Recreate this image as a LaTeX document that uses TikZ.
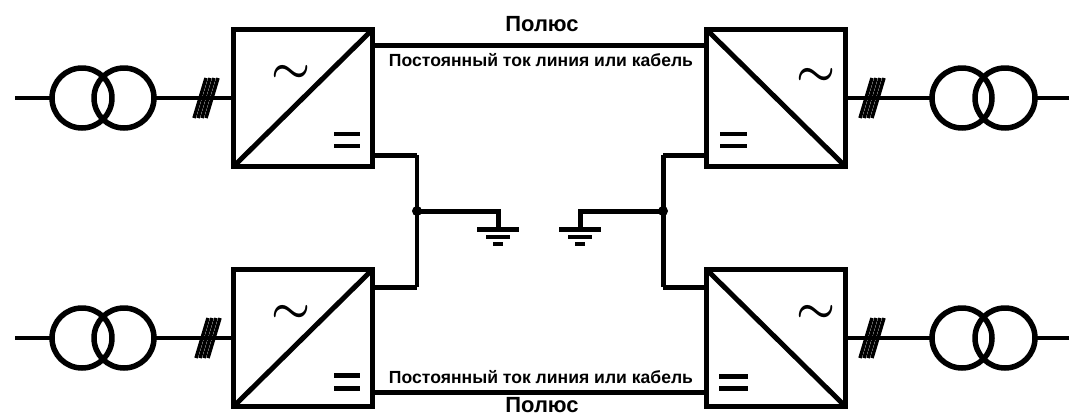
\documentclass[tikz,border=0pt]{standalone}
\usepackage{fontspec}
\setmainfont{Liberation Sans}
\usetikzlibrary{calc}

\tikzset{
	conv/.style={draw, line width=0.1cm, minimum width=2.8cm, minimum height=2.76cm, outer sep=0pt, inner sep=0pt},
	coil/.style={draw, circle, line width=0.11cm, minimum size=1.2cm, outer sep=0pt, inner sep=0pt},
	wire/.style={line width=0.08cm},
	pole/.style={line width=0.1cm},
	thinbus/.style={line width=0.07cm},
	hatch/.style={line width=0.07cm},
	polelabel/.style={inner sep=0pt, font=\bfseries\fontsize{12.5}{14}\selectfont},
	linelabel/.style={inner sep=0pt, font=\bfseries\fontsize{10}{12}\selectfont},
	acsign/.style={inner sep=0pt, font=\fontsize{24}{24}\selectfont\boldmath},
}

\begin{document}
\begin{tikzpicture}[x=0.02cm, y=-0.02cm]
	\useasboundingbox (0,0) rectangle (1071,416);

	% converters
	\node[conv] (convTL) at (303,98) {};
	\node[conv] (convTR) at (776,98) {};
	\node[conv] (convBL) at (303,338) {};
	\node[conv] (convBR) at (776,338) {};
	\draw[pole] (convTL.south west)--(convTL.north east);
	\draw[pole] (convBL.south west)--(convBL.north east);
	\draw[pole] (convTR.north west)--(convTR.south east);
	\draw[pole] (convBR.north west)--(convBR.south east);

	% ac and dc signs
	\node[acsign] (acTL) at (291,74) {$\sim$};
	\node[acsign] (acTR) at (816,77) {$\sim$};
	\node[acsign] (acBL) at (291,314) {$\sim$};
	\node[acsign] (acBR) at (816,314) {$\sim$};
	\draw[thinbus] (334,134)--(360,134) (334,146)--(360,146);
	\draw[thinbus] (720,134)--(747,134) (720,146)--(747,146);
	\draw[pole] (334,375)--(360,375) (334,388)--(360,388);
	\draw[pole] (719,376)--(748,376) (719,388)--(748,388);

	% transformers
	\node[coil] (trTLa) at (82,98) {};
	\node[coil] (trTLb) at (124,98) {};
	\node[coil] (trBLa) at (82,338) {};
	\node[coil] (trBLb) at (124,338) {};
	\node[coil] (trTRa) at (962,98) {};
	\node[coil] (trTRb) at (1005,98) {};
	\node[coil] (trBRa) at (962,338) {};
	\node[coil] (trBRb) at (1005,338) {};

	\coordinate (endTL) at (15,98);
	\coordinate (endBL) at (15,338);
	\coordinate (endTR) at (1069,98);
	\coordinate (endBR) at (1069,338);
	\draw[wire] (endTL)--(trTLa.west);
	\draw[wire] (endBL)--(trBLa.west);
	\draw[wire] (endTR)--(trTRb.east);
	\draw[wire] (endBR)--(trBRb.east);
	\draw[wire] (trTLb.east)--(convTL.west);
	\draw[wire] (trBLb.east)--(convBL.west);
	\draw[wire] (trTRa.west)--(convTR.east);
	\draw[wire] (trBRa.west)--(convBR.east);

	% three phase hatches
	\foreach \cx/\cy in {206/98, 208/338, 872/98, 872/338}{
		\foreach \dx in {-5,-1,3,7}{
			\draw[hatch] ($(\cx,\cy)+(\dx-7,20)$)--($(\cx,\cy)+(\dx+5,-20)$);
		}
	}

	% poles
	\coordinate (poleT) at (540,45);
	\coordinate (poleB) at (540,392);
	\draw[pole] (convTL.east |- poleT)--(convTR.west |- poleT);
	\draw[pole] (convBL.east |- poleB)--(convBR.west |- poleB);
	\node[polelabel] (poleTtext) at (542,24) {Полюс};
	\node[polelabel] (poleBtext) at (542,405) {Полюс};
	\node[linelabel] (lineTtext) at (541,60) {Постоянный ток линия или кабель};
	\node[linelabel] (lineBtext) at (541,377) {Постоянный ток линия или кабель};

	% earth connections
	\coordinate (busLT) at (417,155);
	\coordinate (busLB) at (417,287);
	\coordinate (busRT) at (663,155);
	\coordinate (busRB) at (663,287);
	\coordinate (midL) at (417,211);
	\coordinate (midR) at (663,211);
	\coordinate (gndL) at (498,229);
	\coordinate (gndR) at (580,229);

	\draw[pole] (convTL.east |- busLT)--(busLT);
	\draw[pole] (convBL.east |- busLB)--(busLB);
	\draw[thinbus] (busLT)--(busLB);
	\draw[pole] (convTR.west |- busRT)--(busRT);
	\draw[pole] (convBR.west |- busRB)--(busRB);
	\draw[pole] (busRT)--(busRB);
	\fill (midL) circle (5);
	\fill (midR) circle (5);
	\draw[pole] (midL)-|(gndL);
	\draw[pole] (midR)-|(gndR);

	\draw[pole] ($(gndL)+(-21,0)$)--($(gndL)+(21,0)$);
	\draw[thinbus] ($(gndL)+(-12,8)$)--($(gndL)+(12,8)$);
	\draw[thinbus] ($(gndL)+(-5,15)$)--($(gndL)+(5,15)$);
	\draw[pole] ($(gndR)+(-21,0)$)--($(gndR)+(21,0)$);
	\draw[thinbus] ($(gndR)+(-12,8)$)--($(gndR)+(12,8)$);
	\draw[thinbus] ($(gndR)+(-5,15)$)--($(gndR)+(5,15)$);
\end{tikzpicture}
\end{document}
